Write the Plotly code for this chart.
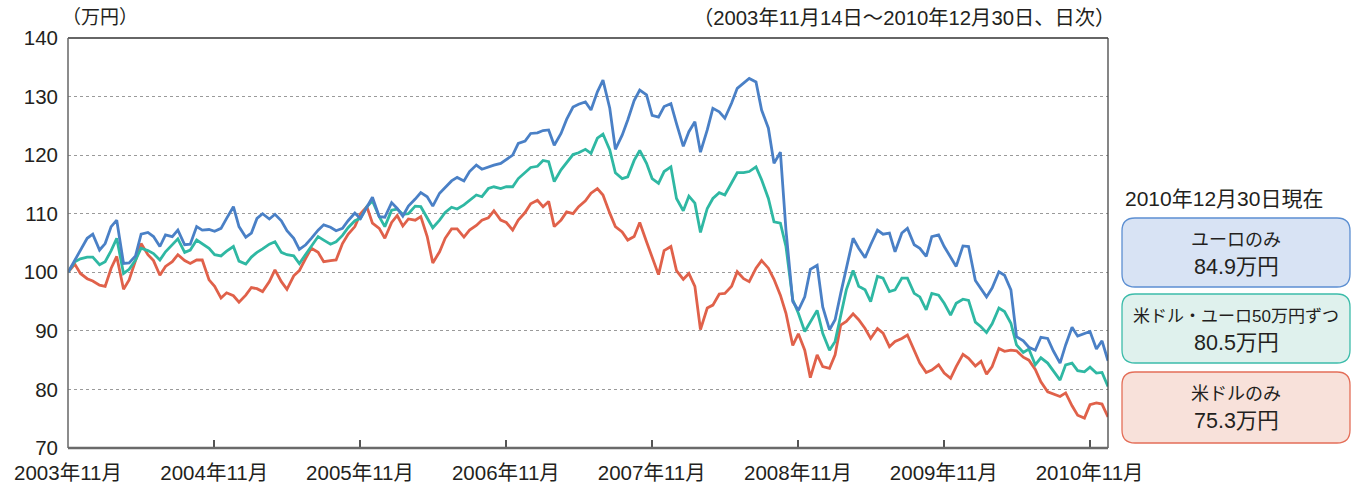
import plotly.graph_objects as go

DATES = [
    "2003-11-14", "2003-12-01", "2003-12-15",
    "2004-01-01", "2004-01-15", "2004-02-01", "2004-02-15", "2004-03-01", "2004-03-15",
    "2004-04-01", "2004-04-15", "2004-05-01", "2004-05-15", "2004-06-01", "2004-06-15",
    "2004-07-01", "2004-07-15", "2004-08-01", "2004-08-15", "2004-09-01", "2004-09-15",
    "2004-10-01", "2004-10-15", "2004-11-01", "2004-11-15", "2004-12-01", "2004-12-15",
    "2005-01-01", "2005-01-15", "2005-02-01", "2005-02-15", "2005-03-01", "2005-03-15",
    "2005-04-01", "2005-04-15", "2005-05-01", "2005-05-15", "2005-06-01", "2005-06-15",
    "2005-07-01", "2005-07-15", "2005-08-01", "2005-08-15", "2005-09-01", "2005-09-15",
    "2005-10-01", "2005-10-15", "2005-11-01", "2005-11-15", "2005-12-01", "2005-12-15",
    "2006-01-01", "2006-01-15", "2006-02-01", "2006-02-15", "2006-03-01", "2006-03-15",
    "2006-04-01", "2006-04-15", "2006-05-01", "2006-05-15", "2006-06-01", "2006-06-15",
    "2006-07-01", "2006-07-15", "2006-08-01", "2006-08-15", "2006-09-01", "2006-09-15",
    "2006-10-01", "2006-10-15", "2006-11-01", "2006-11-15", "2006-12-01", "2006-12-15",
    "2007-01-01", "2007-01-15", "2007-02-01", "2007-02-15", "2007-03-01", "2007-03-15",
    "2007-04-01", "2007-04-15", "2007-05-01", "2007-05-15", "2007-06-01", "2007-06-15",
    "2007-07-01", "2007-07-15", "2007-08-01", "2007-08-15", "2007-09-01", "2007-09-15",
    "2007-10-01", "2007-10-15", "2007-11-01", "2007-11-15", "2007-12-01", "2007-12-15",
    "2008-01-01", "2008-01-15", "2008-02-01", "2008-02-15", "2008-03-01", "2008-03-15",
    "2008-04-01", "2008-04-15", "2008-05-01", "2008-05-15", "2008-06-01", "2008-06-15",
    "2008-07-01", "2008-07-15", "2008-08-01", "2008-08-15", "2008-09-01", "2008-09-15",
    "2008-10-01", "2008-10-15", "2008-11-01", "2008-11-15", "2008-12-01", "2008-12-15",
    "2009-01-01", "2009-01-15", "2009-02-01", "2009-02-15", "2009-03-01", "2009-03-15",
    "2009-04-01", "2009-04-15", "2009-05-01", "2009-05-15", "2009-06-01", "2009-06-15",
    "2009-07-01", "2009-07-15", "2009-08-01", "2009-08-15", "2009-09-01", "2009-09-15",
    "2009-10-01", "2009-10-15", "2009-11-01", "2009-11-15", "2009-12-01", "2009-12-15",
    "2010-01-01", "2010-01-15", "2010-02-01", "2010-02-15", "2010-03-01", "2010-03-15",
    "2010-04-01", "2010-04-15", "2010-05-01", "2010-05-15", "2010-06-01", "2010-06-15",
    "2010-07-01", "2010-07-15", "2010-08-01", "2010-08-15", "2010-09-01", "2010-09-15",
    "2010-10-01", "2010-10-15", "2010-11-01", "2010-11-15", "2010-12-01", "2010-12-15",
    "2010-12-30",
]

EURO_ONLY = [
    100.0, 102.1, 103.8,
    105.8, 106.5, 103.8, 104.9, 107.8, 108.9, 101.5, 101.6, 102.8, 106.5, 106.8, 106.1,
    104.4, 106.4, 106.1, 107.2, 104.7, 104.8, 107.8, 107.2, 107.3, 107.0, 107.5, 109.2,
    111.2, 107.8, 106.0, 106.7, 109.2, 110.0, 109.1, 109.9, 108.8, 107.1, 105.8, 103.9,
    104.7, 105.8, 107.2, 108.1, 107.7, 107.1, 107.5, 108.8, 110.1, 109.2, 111.2, 112.8,
    109.5, 109.4, 111.9, 110.9, 109.6, 111.3, 112.5, 113.6, 112.9, 111.3, 113.5, 114.5,
    115.6, 116.2, 115.6, 117.2, 118.3, 117.6, 118.0, 118.3, 118.6, 119.2, 120.0, 122.0,
    122.4, 123.7, 123.8, 124.2, 124.3, 121.7, 123.7, 126.1, 128.2, 128.7, 129.1, 127.7,
    130.8, 132.8, 128.0, 121.0, 123.4, 126.0, 129.3, 131.1, 130.3, 126.8, 126.5, 128.3,
    128.8, 125.4, 121.5, 124.0, 125.7, 120.5, 124.3, 128.0, 127.4, 126.3, 128.9, 131.4,
    132.3, 133.1, 132.5, 127.7, 124.6, 118.6, 120.5, 107.2, 95.0, 93.5, 95.8, 100.5,
    101.2, 94.1, 90.2, 91.9, 96.4, 100.4, 105.8, 104.1, 102.5, 104.7, 107.2, 106.5,
    106.7, 103.5, 106.7, 107.5, 104.7, 104.1, 102.7, 106.1, 106.4, 104.4, 102.7, 101.0,
    104.5, 104.4, 98.6, 97.3, 95.8, 97.3, 100.1, 99.5, 97.0, 89.0, 88.3, 87.2,
    86.7, 88.9, 88.7, 86.6, 84.5, 87.6, 90.6, 89.1, 89.6, 89.9, 86.9, 88.3,
    84.9,
]

HALF_HALF = [
    100.0, 101.8, 102.3,
    102.6, 102.6, 101.3, 101.8, 103.7, 105.8, 99.8, 100.5, 102.1, 104.1, 103.7, 103.2,
    102.1, 103.5, 104.8, 105.7, 103.4, 103.8, 105.5, 104.8, 104.1, 103.0, 102.8, 103.6,
    104.4, 101.9, 101.4, 102.6, 103.4, 104.0, 104.8, 105.2, 103.4, 103.0, 102.8, 101.5,
    103.1, 104.3, 106.1, 105.5, 104.8, 105.2, 106.3, 107.6, 108.8, 109.2, 111.2, 112.2,
    109.5, 107.8, 110.6, 110.8, 109.9, 110.0, 111.3, 111.2, 109.2, 107.6, 108.9, 110.2,
    111.1, 110.8, 111.5, 112.3, 113.2, 112.9, 114.3, 114.6, 114.3, 114.6, 114.6, 116.0,
    117.1, 117.9, 118.1, 119.1, 118.9, 115.5, 117.5, 118.7, 120.1, 120.4, 121.0, 120.3,
    122.9, 123.6, 120.9, 117.0, 116.0, 116.3, 119.1, 120.8, 118.6, 116.0, 115.2, 117.2,
    118.0, 112.6, 110.5, 113.0, 111.8, 106.8, 110.9, 112.6, 113.6, 113.2, 115.2, 117.0,
    117.0, 117.2, 118.0, 115.8, 112.6, 108.6, 108.4, 104.4, 95.3, 93.0, 89.9, 91.5,
    93.5, 89.6, 86.7, 88.2, 92.4, 97.0, 100.3, 97.6, 97.0, 95.0, 99.3, 99.0,
    96.7, 97.0, 99.0, 99.0, 96.4, 95.8, 93.6, 96.4, 96.1, 94.7, 92.7, 94.7,
    95.4, 95.2, 91.5, 90.7, 89.7, 91.2, 93.9, 93.3, 91.3, 87.6, 86.3, 86.9,
    84.2, 85.4, 84.5, 83.1, 81.6, 84.2, 84.5, 83.2, 83.0, 83.8, 82.8, 82.9,
    80.5,
]

USD_ONLY = [
    100.0, 101.4, 99.8,
    98.9, 98.5, 97.8, 97.6, 100.7, 102.7, 97.1, 98.7, 101.8, 104.9, 103.0, 102.0,
    99.5, 101.0, 101.8, 103.0, 102.0, 101.5, 102.1, 102.1, 98.7, 97.6, 95.6, 96.5,
    96.0, 94.9, 96.1, 97.4, 97.2, 96.7, 98.4, 100.4, 98.4, 97.1, 99.4, 100.3,
    102.4, 104.1, 103.4, 101.8, 102.0, 102.1, 104.9, 106.5, 107.8, 110.0, 111.2, 108.4,
    107.5, 105.8, 108.5, 109.7, 107.9, 109.1, 108.9, 109.5, 106.1, 101.6, 103.5, 105.8,
    107.4, 107.4, 106.0, 107.2, 108.0, 108.9, 109.3, 110.5, 108.9, 108.5, 107.2, 108.9,
    110.2, 111.7, 112.3, 111.2, 112.1, 107.8, 108.9, 110.3, 110.0, 111.2, 112.2, 113.5,
    114.3, 113.2, 110.1, 107.8, 106.9, 105.5, 106.1, 108.5, 105.2, 102.4, 99.6, 103.7,
    104.4, 100.3, 98.8, 99.8, 97.6, 90.2, 93.9, 94.4, 96.3, 96.4, 97.6, 100.1,
    98.9, 98.4, 100.7, 102.0, 100.7, 98.8, 96.1, 93.0, 87.5, 89.5, 86.7, 82.0,
    85.9, 83.9, 83.6, 85.9, 91.0, 91.6, 92.9, 91.9, 90.4, 88.7, 90.4, 89.6,
    87.3, 88.2, 88.7, 89.3, 86.5, 84.5, 82.9, 83.3, 84.2, 82.8, 81.9, 83.9,
    86.0, 85.3, 84.0, 84.8, 82.6, 83.9, 87.0, 86.5, 86.7, 86.6, 85.5, 85.0,
    83.4, 81.3, 79.6, 79.2, 78.8, 79.4, 77.2, 75.6, 75.1, 77.4, 77.7, 77.5,
    75.3,
]

TICK_DATES = ["2003-11-14", "2004-11-14", "2005-11-14", "2006-11-14",
              "2007-11-14", "2008-11-14", "2009-11-14", "2010-11-14"]
TICK_TEXT = ["2003年11月", "2004年11月", "2005年11月", "2006年11月",
             "2007年11月", "2008年11月", "2009年11月", "2010年11月"]

LEGEND_HEAD = "2010年12月30日現在"
LEGEND_NAMES = ["ユーロのみ", "米ドル・ユーロ50万円ずつ", "米ドルのみ"]
LEGEND_VALUES = ["84.9万円", "80.5万円", "75.3万円"]

LINE_COLORS = ["#4a80c6", "#2fb8a3", "#e0614a"]
BOX_FILLS = ["#d8e3f4", "#dff1ed", "#f8e1da"]
BOX_LINES = ["#5c8fd2", "#3cbcaa", "#e46e58"]

FONT = "Liberation Sans, Arial, Noto Sans CJK JP, sans-serif"
TXT = "#231f20"

# plot area in pixels
L, R, T, B = 68, 1108, 38, 448
W, H = 1352, 484


def px(x):
    return (x - L) / (R - L)


def py(y):
    return (B - y) / (B - T)


fig = go.Figure()
series = [(EURO_ONLY, LINE_COLORS[0]), (HALF_HALF, LINE_COLORS[1]), (USD_ONLY, LINE_COLORS[2])]
for vals, col in reversed(series):
    fig.add_trace(go.Scatter(x=DATES, y=vals, mode="lines",
                             line=dict(color=col, width=2.8), showlegend=False,
                             hoverinfo="skip"))

shapes = []
annotations = []

# frame
shapes.append(dict(type="line", xref="paper", yref="paper", x0=0, x1=1, y0=1, y1=1,
                   line=dict(color="#333", width=1.5), layer="above"))
shapes.append(dict(type="line", xref="paper", yref="paper", x0=1, x1=1, y0=0, y1=1,
                   line=dict(color="#444", width=1.3), layer="above"))
shapes.append(dict(type="line", xref="paper", yref="paper", x0=0, x1=0, y0=0, y1=1,
                   line=dict(color="#666", width=1.5), layer="above"))
shapes.append(dict(type="line", xref="paper", yref="paper", x0=0, x1=1, y0=0, y1=0,
                   line=dict(color="#6a6a6a", width=2.5), layer="above"))

# legend boxes
boxes = [(218, 287), (294, 363), (372, 443)]
bx0, bx1 = 1122, 1350
rad = 13
name_sizes = [18, 17, 18]
for i, (y0, y1) in enumerate(boxes):
    X0, X1 = px(bx0), px(bx1)
    Y0, Y1 = py(y1), py(y0)
    rx = rad / (R - L)
    ry = rad / (B - T)
    path = (f"M {X0+rx},{Y0} L {X1-rx},{Y0} Q {X1},{Y0} {X1},{Y0+ry} "
            f"L {X1},{Y1-ry} Q {X1},{Y1} {X1-rx},{Y1} L {X0+rx},{Y1} "
            f"Q {X0},{Y1} {X0},{Y1-ry} L {X0},{Y0+ry} Q {X0},{Y0} {X0+rx},{Y0} Z")
    shapes.append(dict(type="path", xref="paper", yref="paper", path=path,
                       fillcolor=BOX_FILLS[i], line=dict(color=BOX_LINES[i], width=1.3)))
    cx = px((bx0 + bx1) / 2)
    annotations.append(dict(xref="paper", yref="paper", x=cx, y=py(y0 + 22),
                            text=LEGEND_NAMES[i], showarrow=False,
                            font=dict(size=name_sizes[i], color=TXT, family=FONT),
                            xanchor="center", yanchor="middle"))
    annotations.append(dict(xref="paper", yref="paper", x=cx, y=py(y0 + 49),
                            text=LEGEND_VALUES[i], showarrow=False,
                            font=dict(size=21.5, color=TXT, family=FONT),
                            xanchor="center", yanchor="middle"))

annotations.append(dict(xref="paper", yref="paper", x=px(1123), y=py(198),
                        text=LEGEND_HEAD, showarrow=False,
                        font=dict(size=21, color=TXT, family=FONT),
                        xanchor="left", yanchor="middle"))
annotations.append(dict(xref="paper", yref="paper", x=px(60), y=py(18),
                        text="（万円）", showarrow=False,
                        font=dict(size=19, color=TXT, family=FONT),
                        xanchor="left", yanchor="middle"))
annotations.append(dict(xref="paper", yref="paper", x=px(1117), y=py(18),
                        text="（2003年11月14日～2010年12月30日、日次）", showarrow=False,
                        font=dict(size=20.3, color=TXT, family=FONT),
                        xanchor="right", yanchor="middle"))

fig.update_layout(
    width=W, height=H,
    margin=dict(l=L, r=W - R, t=T, b=H - B, pad=0),
    paper_bgcolor="white", plot_bgcolor="white",
    shapes=shapes, annotations=annotations,
    font=dict(family=FONT, color=TXT),
    xaxis=dict(type="date", range=["2003-11-14", "2010-12-30"],
               tickvals=TICK_DATES, ticktext=TICK_TEXT,
               ticks="inside", ticklen=8, tickwidth=1.5, tickcolor="#555",
               ticklabelstandoff=10, automargin=False,
               showgrid=False, zeroline=False, showline=False,
               tickfont=dict(size=20.5, color=TXT, family=FONT)),
    yaxis=dict(range=[70, 140], dtick=10, tick0=70,
               showgrid=True, gridcolor="#9a9a9a", gridwidth=1, griddash="dot",
               zeroline=False, showline=False, ticks="",
               ticklabelstandoff=9, automargin=False,
               tickfont=dict(size=20.5, color=TXT, family=FONT)),
)

fig.write_html("out.html", config={"displayModeBar": False},
               post_script="document.body.style.margin='0';document.body.style.padding='0';")
